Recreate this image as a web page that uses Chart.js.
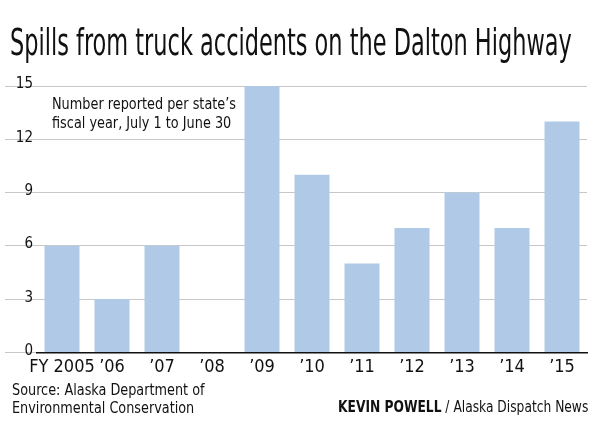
<!DOCTYPE html>
<html>
<head>
<meta charset="utf-8">
<script src="https://cdn.jsdelivr.net/npm/chart.js@4"></script>
<style>
  body { margin: 0; background: #fff; font-family: "DejaVu Sans Condensed", sans-serif; }
  #wrap { position: relative; width: 600px; height: 445px; }
  #chart { position: absolute; left: 0; top: 0; }
  .t { position: absolute; color: #111; white-space: nowrap; transform-origin: left top; }
</style>
</head>
<body>
<div id="wrap">
  <canvas id="chart" width="600" height="445"></canvas>
  <div class="t" id="title" data-w="562" style="left:10px;top:20px;font-size:38px;">Spills from truck accidents on the Dalton Highway</div>
  <div class="t" id="note" data-w="184" style="left:52px;top:95px;font-size:15px;line-height:19px;">Number reported per state’s<br>fiscal year, July 1 to June 30</div>
  <div class="t" data-w="193" style="left:12px;top:381px;font-size:15px;line-height:18px;">Source: Alaska Department of<br>Environmental Conservation</div>
  <div class="t" data-w="250" style="left:338px;top:398px;font-size:15px;"><b>KEVIN POWELL</b> / Alaska Dispatch News</div>
</div>
<script>
// 年度ごとの流出件数
const years  = ["FY 2005", "’06", "’07", "’08", "’09", "’10", "’11", "’12", "’13", "’14", "’15"];
const spills = [6, 3, 6, 0, 15, 10, 5, 7, 9, 7, 13];
const yTicks = [0, 3, 6, 9, 12, 15];

// 幅に合わせて横方向に縮める
document.querySelectorAll(".t").forEach(el => {
  const w = +el.dataset.w;
  el.style.transform = "scaleX(" + (w / el.offsetWidth) + ")";
});

const font = "'DejaVu Sans Condensed', sans-serif";

new Chart(document.getElementById("chart").getContext("2d"), {
  type: "bar",
  data: {
    labels: years,
    datasets: [{
      data: spills,
      backgroundColor: "#b0c9e6",
      barPercentage: 0.7,
      categoryPercentage: 1.0,
    }],
  },
  options: {
    responsive: false,
    animation: false,
    layout: { padding: { left: 0, right: 13, top: 86, bottom: 63 } },
    plugins: { legend: { display: false }, tooltip: { enabled: false } },
    scales: {
      x: {
        grid: { display: false, drawTicks: false },
        border: { color: "#111", width: 1.5 },
        ticks: { color: "#111", font: { family: font, size: 18 }, padding: 4, maxRotation: 0, autoSkip: false },
      },
      y: {
        min: 0, max: 15,
        afterBuildTicks: (axis) => { axis.ticks = yTicks.map(v => ({ value: v })); },
        grid: { color: "#c8c8c8", tickLength: 32 },
        border: { display: false },
        ticks: { color: "#111", font: { family: font, size: 15 }, padding: -28, align: "start", labelOffset: -9 },
        afterFit: (axis) => { axis.width = 37; },
      },
    },
  },
});
</script>
</body>
</html>
